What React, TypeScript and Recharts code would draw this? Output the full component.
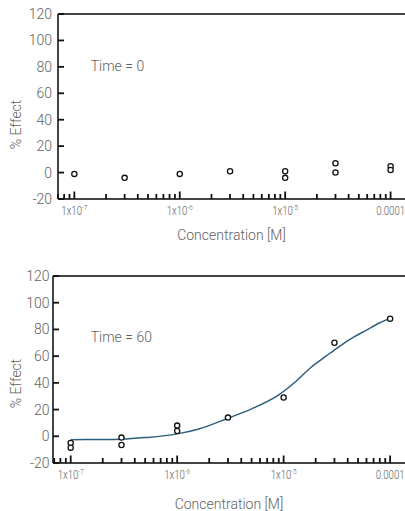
import React from 'react';
import { ComposedChart, Scatter, Line, XAxis, YAxis, ReferenceLine, Customized } from 'recharts';

// ---- data ----
const conc0 = [1e-7, 3e-7, 1e-6, 3e-6, 1e-5, 1e-5, 3e-5, 3e-5, 1e-4, 1e-4];
const effect0 = [-1, -4, -1, 1, 1, -4, 7, 0, 4.8, 2];

const conc60 = [1e-7, 1e-7, 3e-7, 3e-7, 1e-6, 1e-6, 3e-6, 1e-5, 3e-5, 1e-4];
const effect60 = [-5, -8.5, -1, -6.5, 8, 4, 14, 29, 70, 88];

const fitConc = [1e-7, 2e-7, 3e-7, 5e-7, 1e-6, 1.6e-6, 3e-6, 5e-6, 9e-6, 1.3e-5, 1.8e-5, 2.5e-5, 3.3e-5, 4.5e-5, 6e-5, 8e-5, 1e-4];
const fitEffect = [-2.5, -2.4, -2.2, -1, 1.8, 5.5, 13.5, 20.5, 31, 41, 51.5, 60, 67, 74, 79.5, 85, 88.5];

const xTicks = [
  7e-8, 8e-8, 9e-8,
  1e-7, 2e-7, 3e-7, 4e-7, 5e-7, 6e-7, 7e-7, 8e-7, 9e-7,
  1e-6, 2e-6, 3e-6, 4e-6, 5e-6, 6e-6, 7e-6, 8e-6, 9e-6,
  1e-5, 2e-5, 3e-5, 4e-5, 5e-5, 6e-5, 7e-5, 8e-5, 9e-5,
  1e-4,
];
const majorTickValues = [1e-7, 1e-6, 1e-5, 1e-4];
const majorTickBase = ['1x10', '1x10', '1x10', '0.0001'];
const majorTickExp = ['-7', '-6', '-5', ''];
const yTicks = [-20, 0, 20, 40, 60, 80, 100, 120];

const data0 = conc0.map((c, i) => ({ x: c, y: effect0[i] }));
const data60 = conc60.map((c, i) => ({ x: c, y: effect60[i] }));
const fitData = fitConc.map((c, i) => ({ x: c, y: fitEffect[i] }));

// ---- styles ----
const AXIS = '#444444';
const TICK = '#111111';
const TEXT = '#626262';
const CURVE = '#2d5e7e';
const FONT = 'Roboto, "Noto Sans", sans-serif';
const WEIGHT = 300;

const XTick = (props: any) => {
  const { x, y, payload } = props;
  const v = payload.value;
  const idx = majorTickValues.findIndex((m) => Math.abs(Math.log10(m) - Math.log10(v)) < 1e-6);
  const major = idx >= 0;
  return (
    <g>
      <line x1={x} x2={x} y1={y} y2={y - (major ? 7.5 : 5)} stroke={TICK} strokeWidth={1.8} />
      {major && (
        <text
          transform={`translate(${x}, ${y + 15.5}) scale(0.8, 1)`}
          x={0}
          y={0}
          textAnchor="middle"
          fill={TEXT}
          fontSize={12}
          fontWeight={WEIGHT}
          fontFamily={FONT}
        >
          <tspan>{majorTickBase[idx]}</tspan>
          {majorTickExp[idx] && (
            <tspan dy={-4.5} fontSize={8}>
              {majorTickExp[idx]}
            </tspan>
          )}
        </text>
      )}
    </g>
  );
};

const makeYTick = (gap: number) => (props: any) => {
  const { x, y, payload } = props;
  return (
    <g>
      <line x1={x} x2={x + 6} y1={y} y2={y} stroke={TICK} strokeWidth={1.8} />
      <text x={x - gap} y={y + 5} textAnchor="end" fill={TEXT} fontSize={14} fontWeight={WEIGHT} fontFamily={FONT}>
        {payload.value}
      </text>
    </g>
  );
};

const makeXLabel = (dy: number) => (props: any) => {
  const { viewBox } = props;
  const { x, y, width } = viewBox;
  return (
    <text x={x + width / 2} y={y + dy} textAnchor="middle" fill={TEXT} fontSize={14} fontWeight={WEIGHT} fontFamily={FONT}>
      Concentration [M]
    </text>
  );
};

const makeYLabel = (cx: number, offset: number) => (props: any) => {
  const { viewBox } = props;
  const { y, height } = viewBox;
  const cy = y + height / 2 + offset;
  return (
    <text
      x={cx}
      y={cy}
      textAnchor="middle"
      dominantBaseline="central"
      transform={`rotate(-90, ${cx}, ${cy})`}
      fill={TEXT}
      fontSize={14}
      fontWeight={WEIGHT}
      fontFamily={FONT}
    >
      % Effect
    </text>
  );
};

const makeTimeLabel = (text: string, x: number, y: number) => () => (
  <text x={x} y={y} dominantBaseline="central" fill={TEXT} fontSize={14} fontWeight={WEIGHT} fontFamily={FONT}>
    {text}
  </text>
);

const Circle = (props: any) => {
  const { cx, cy } = props;
  return <circle cx={cx} cy={cy} r={2.6} fill="#fff" stroke="#111" strokeWidth={1.3} />;
};

const TopTimeLabel = makeTimeLabel('Time = 0', 82.7, 58);
const BottomTimeLabel = makeTimeLabel('Time = 60', 82.7, 83.7);

export default function App() {
  return (
    <div style={{ position: 'absolute', left: 8, top: 8, width: 397 }}>
      <ComposedChart width={397} height={245} margin={{ top: 6, right: 0, left: 0, bottom: 0 }}>
        <XAxis
          dataKey="x"
          type="number"
          scale="log"
          domain={[7e-8, 1.37e-4]}
          allowDataOverflow
          ticks={xTicks}
          interval={0}
          tick={XTick}
          tickLine={false}
          tickSize={0}
          tickMargin={0}
          axisLine={{ stroke: AXIS, strokeWidth: 2 }}
          height={54}
          label={{ content: makeXLabel(41) }}
        />
        <YAxis
          type="number"
          domain={[-20, 120]}
          ticks={yTicks}
          interval={0}
          allowDataOverflow
          tick={makeYTick(6)}
          tickLine={false}
          tickSize={0}
          tickMargin={0}
          axisLine={{ stroke: AXIS, strokeWidth: 2 }}
          width={50}
          label={{ content: makeYLabel(7.5, 18) }}
        />
        <ReferenceLine y={120} stroke={AXIS} strokeWidth={2} />
        <Customized component={TopTimeLabel} />
        <Scatter data={data0} dataKey="y" shape={Circle} isAnimationActive={false} />
      </ComposedChart>
      <ComposedChart width={397} height={258} margin={{ top: 23, right: 0, left: 0, bottom: 0 }}>
        <XAxis
          dataKey="x"
          type="number"
          scale="log"
          domain={[6.82e-8, 1.38e-4]}
          allowDataOverflow
          ticks={xTicks}
          interval={0}
          tick={XTick}
          tickLine={false}
          tickSize={0}
          tickMargin={0}
          axisLine={{ stroke: AXIS, strokeWidth: 2 }}
          height={48}
          label={{ content: makeXLabel(45.5) }}
        />
        <YAxis
          type="number"
          domain={[-20, 120]}
          ticks={yTicks}
          interval={0}
          allowDataOverflow
          tick={makeYTick(3.5)}
          tickLine={false}
          tickSize={0}
          tickMargin={0}
          axisLine={{ stroke: AXIS, strokeWidth: 2 }}
          width={45}
          label={{ content: makeYLabel(7.5, 14) }}
        />
        <ReferenceLine y={120} stroke={AXIS} strokeWidth={2} />
        <Customized component={BottomTimeLabel} />
        <Line
          data={fitData}
          dataKey="y"
          type="monotone"
          dot={false}
          stroke={CURVE}
          strokeWidth={1.5}
          isAnimationActive={false}
        />
        <Scatter data={data60} dataKey="y" shape={Circle} isAnimationActive={false} />
      </ComposedChart>
    </div>
  );
}
